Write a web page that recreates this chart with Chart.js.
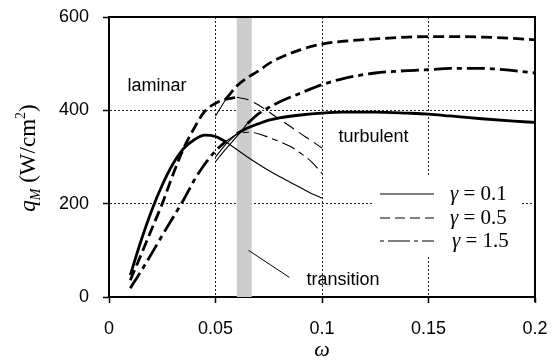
<!DOCTYPE html>
<html>
<head>
<meta charset="utf-8">
<script src="https://cdn.jsdelivr.net/npm/chart.js@4/dist/chart.umd.min.js"></script>
<style>
  html, body { margin: 0; padding: 0; background: #fff; }
  #wrap { width: 554px; height: 361px; position: relative; }
</style>
</head>
<body>
<div id="wrap"><canvas id="qmChart" width="554" height="361"></canvas></div>
<script>
// omega values (laminar branch, 0.01 .. 0.1)
const lamOmega = [0.01, 0.015, 0.02, 0.025, 0.03, 0.035, 0.04, 0.045, 0.05, 0.055,
                  0.06, 0.065, 0.07, 0.075, 0.08, 0.085, 0.09, 0.095, 0.1];
const lamG01 = [47, 120, 185, 240, 285, 318, 337, 347, 344, 332,
                316, 300, 285, 271, 258, 246, 234, 222, 212];
const lamG05 = [36, 90, 145, 200, 262, 318, 362, 398, 415, 424,
                428, 423, 412, 397, 381, 366, 350, 335, 319];
const lamG15 = [19, 55, 93, 132, 170, 208, 250, 285, 313, 334,
                348, 353, 350, 342, 333, 323, 308, 290, 265];

// omega values (turbulent branch, 0.05 .. 0.2)
const turbOmega = [0.05, 0.055, 0.06, 0.065, 0.07, 0.075, 0.08, 0.09, 0.1,
                   0.11, 0.125, 0.14, 0.15, 0.16, 0.175, 0.19, 0.2];
const turbG01 = [300, 328, 350, 362, 371, 379, 384, 390, 394,
                 396, 396, 394, 392, 388, 382, 377, 374];
const turbG05 = [388, 425, 452, 470, 484, 500, 512, 530, 542,
                 548, 553, 557, 558, 558, 557, 554, 551];
const turbG15 = [290, 318, 344, 372, 392, 406, 418, 437, 455,
                 468, 480, 485, 487, 490, 490, 485, 480];

// where the laminar curve stops being thick / turbulent starts being thick
const gammas = ['0.1', '0.5', '1.5'];
const lamThickEnd = [0.055, 0.06, 0.055];
const turbThickStart = [0.06, 0.055, 0.065];

// transition band (omega range)
const bandFrom = 0.06;
const bandTo = 0.067;

const xTicks = [0, 0.05, 0.1, 0.15, 0.2];
const yTicks = [0, 200, 400, 600];

const pts = (xs, ys, keep) => xs.map((x, i) => ({x: x, y: ys[i]})).filter(p => keep(p.x));

const thick = 2.8, thin = 1.1;
const dashThick = [[], [11, 5], [18, 5, 5, 5]];
const dashThin = [[], [12, 6], [14, 5, 6, 5]];

const lamSets = [lamG01, lamG05, lamG15];
const turbSets = [turbG01, turbG05, turbG15];

const datasets = [];
gammas.forEach((g, k) => {
    const e1 = lamThickEnd[k], s2 = turbThickStart[k];
    datasets.push({label: 'lam thick ' + g, data: pts(lamOmega, lamSets[k], x => x <= e1 + 1e-9),
        borderWidth: thick, borderDash: dashThick[k]});
    datasets.push({label: 'lam thin ' + g, data: pts(lamOmega, lamSets[k], x => x >= e1 - 1e-9),
        borderWidth: thin, borderDash: dashThin[k]});
    datasets.push({label: 'turb thin ' + g, data: pts(turbOmega, turbSets[k], x => x <= s2 + 1e-9),
        borderWidth: thin, borderDash: []});
    datasets.push({label: 'turb thick ' + g, data: pts(turbOmega, turbSets[k], x => x >= s2 - 1e-9),
        borderWidth: thick, borderDash: dashThick[k]});
});
datasets.forEach(d => {
    d.borderColor = '#000';
    d.pointRadius = 0;
    d.fill = false;
    d.cubicInterpolationMode = 'monotone';
    d.borderCapStyle = 'butt';
});

const serif = '"Liberation Serif", "DejaVu Serif", serif';
const sans = '"Liberation Sans", Arial, sans-serif';

const decor = {
    id: 'decor',
    beforeDatasetsDraw(chart) {
        const {ctx, chartArea: a, scales: {x}} = chart;
        ctx.save();
        ctx.fillStyle = '#cdcdcd';
        const x1 = x.getPixelForValue(bandFrom), x2 = x.getPixelForValue(bandTo);
        ctx.fillRect(x1, a.top, x2 - x1, a.bottom - a.top);
        ctx.restore();
    },
    afterDatasetsDraw(chart) {
        const {ctx, chartArea: a, scales: {x, y}} = chart;
        ctx.save();
        // top and right frame
        ctx.strokeStyle = '#000';
        ctx.lineWidth = 2;
        ctx.beginPath();
        ctx.moveTo(a.left, a.top);
        ctx.lineTo(a.right, a.top);
        ctx.lineTo(a.right, a.bottom + 5);
        ctx.stroke();

        // region labels
        ctx.fillStyle = '#000';
        ctx.font = '18px ' + sans;
        ctx.textBaseline = 'middle';
        ctx.fillText('laminar', x.getPixelForValue(0.0087), y.getPixelForValue(452));
        ctx.fillText('turbulent', x.getPixelForValue(0.1077), y.getPixelForValue(343));
        ctx.fillText('transition', x.getPixelForValue(0.0927), y.getPixelForValue(36));
        ctx.lineWidth = 1;
        ctx.beginPath();
        ctx.moveTo(x.getPixelForValue(0.0655), y.getPixelForValue(100));
        ctx.lineTo(x.getPixelForValue(0.0847), y.getPixelForValue(42));
        ctx.stroke();

        // legend box
        ctx.fillStyle = '#fff';
        ctx.fillRect(374, 177, 148, 79);
        const rows = [194, 218, 241];
        rows.forEach((ry, k) => {
            ctx.strokeStyle = '#000';
            ctx.lineWidth = 1;
            ctx.setLineDash(k === 0 ? [] : (k === 1 ? [10, 5] : [4, 4, 22, 4]));
            ctx.beginPath();
            ctx.moveTo(380, ry);
            ctx.lineTo(434, ry);
            ctx.stroke();
            ctx.setLineDash([]);
            ctx.fillStyle = '#000';
            ctx.textBaseline = 'middle';
            ctx.font = 'italic 21px ' + serif;
            const tx = k === 2 ? 452 : 450;
            ctx.fillText('γ', tx, ry);
            const w = ctx.measureText('γ').width;
            ctx.font = '21px ' + serif;
            ctx.fillText(' = ' + gammas[k], tx + w, ry);
        });

        // axis titles
        ctx.font = 'italic 22px ' + serif;
        ctx.textBaseline = 'alphabetic';
        ctx.textAlign = 'center';
        ctx.fillText('ω', (a.left + a.right) / 2, 356);

        ctx.translate(35, 158);
        ctx.rotate(-Math.PI / 2);
        const parts = [
            {t: 'q', f: 'italic 23px ' + serif, dy: 0},
            {t: 'M', f: 'italic 14px ' + serif, dy: 5},
            {t: ' (W/cm', f: '23px ' + serif, dy: 0},
            {t: '2', f: '14px ' + serif, dy: -10},
            {t: ')', f: '23px ' + serif, dy: 0}
        ];
        let total = 0;
        parts.forEach(p => { ctx.font = p.f; total += ctx.measureText(p.t).width; });
        let cx = -total / 2;
        ctx.textAlign = 'left';
        parts.forEach(p => {
            ctx.font = p.f;
            ctx.fillText(p.t, cx, p.dy);
            cx += ctx.measureText(p.t).width;
        });
        ctx.restore();
    }
};

const gridColor = (lo, hi) => (c) => {
    const v = c.tick ? c.tick.value : null;
    return (v === lo || v === hi) ? 'rgba(0,0,0,0)' : '#222';
};

const chart = new Chart(document.getElementById('qmChart').getContext('2d'), {
    type: 'line',
    data: {datasets: datasets},
    options: {
        responsive: false,
        animation: false,
        events: [],
        layout: {padding: {left: 0, right: 19, top: 17, bottom: 0}},
        plugins: {legend: {display: false}, tooltip: {enabled: false}},
        scales: {
            x: {
                type: 'linear', min: 0, max: 0.2,
                afterFit: s => { s.height = 64; s.paddingLeft = 0; s.paddingRight = 0; },
                afterBuildTicks: s => { s.ticks = xTicks.map(v => ({value: v})); },
                ticks: {
                    color: '#000', padding: 15, maxRotation: 0,
                    font: {family: sans, size: 18},
                    callback: v => String(+v.toFixed(2))
                },
                grid: {color: gridColor(0, 0.2), lineWidth: 1, tickColor: '#000', tickLength: 6, tickWidth: 1.5},
                border: {color: '#000', width: 2, dash: [2, 2]}
            },
            y: {
                min: 0, max: 600,
                afterFit: s => { s.width = 109; s.paddingTop = 0; s.paddingBottom = 0; },
                afterBuildTicks: s => { s.ticks = yTicks.map(v => ({value: v})); },
                ticks: {color: '#000', padding: 14, font: {family: sans, size: 18}},
                grid: {color: gridColor(0, 600), lineWidth: 1, tickColor: '#000', tickLength: 6, tickWidth: 1.5},
                border: {color: '#000', width: 2, dash: [2, 2]}
            }
        }
    },
    plugins: [decor]
});
</script>
</body>
</html>
